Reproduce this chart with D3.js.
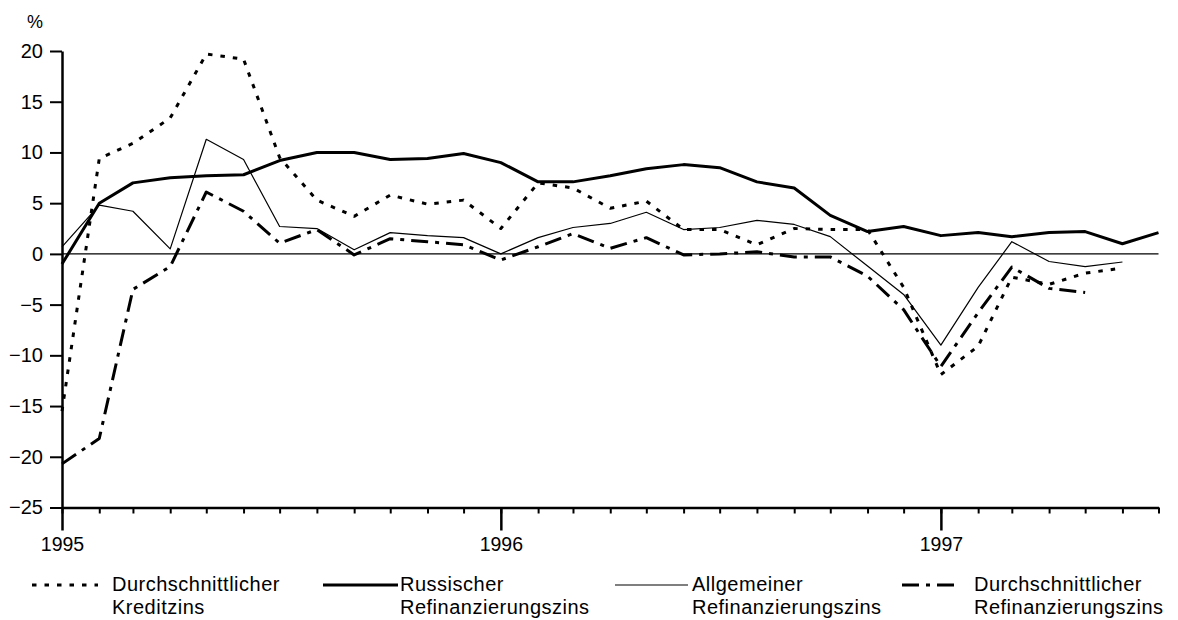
<!DOCTYPE html>
<html>
<head>
<meta charset="utf-8">
<script src="https://cdn.jsdelivr.net/npm/d3@7"></script>
<style>
  body { margin: 0; background: #fff; }
  svg { font-family: "Liberation Sans", Arial, sans-serif; }
</style>
</head>
<body>
<div id="chart"></div>
<script>
// Monatswerte, Jan 1995 .. Jul 1997
const start_month = new Date(1995, 0, 1);
const end_month = new Date(1997, 6, 1);
const year_ticks = [new Date(1995, 0, 1), new Date(1996, 0, 1), new Date(1997, 0, 1)];
const y_ticks = [20, 15, 10, 5, 0, -5, -10, -15, -20, -25];

const kreditzins = [-15.5, 9.4, 10.9, 13.4, 19.7, 19.2, 9.5, 5.3, 3.7, 5.8, 4.9, 5.3, 2.5, 7.0, 6.5,
  4.5, 5.2, 2.4, 2.4, 0.9, 2.5, 2.4, 2.4, -3.3, -11.9, -9.1, -2.3, -3.0, -1.9, -1.4];
const russ_refi = [-1.0, 5.0, 7.0, 7.5, 7.7, 7.8, 9.2, 10.0, 10.0, 9.3, 9.4, 9.9, 9.0, 7.1, 7.1,
  7.7, 8.4, 8.8, 8.5, 7.1, 6.5, 3.8, 2.2, 2.7, 1.8, 2.1, 1.7, 2.1, 2.2, 1.0, 2.1];
const allg_refi = [0.7, 4.8, 4.2, 0.5, 11.3, 9.3, 2.7, 2.5, 0.4, 2.1, 1.8, 1.6, 0.0, 1.6, 2.6,
  3.0, 4.1, 2.4, 2.6, 3.3, 2.9, 1.7, -1.2, -4.0, -9.0, -3.3, 1.2, -0.75, -1.25, -0.8];
const durchschn_refi = [-20.7, -18.2, -3.5, -1.25, 6.1, 4.2, 1.05, 2.4, -0.1, 1.5, 1.2, 0.9, -0.6, 0.7, 2.0,
  0.55, 1.6, -0.1, 0.0, 0.2, -0.3, -0.3, -2.2, -5.5, -11.1, -5.8, -1.3, -3.4, -3.8];

const legend_labels = [
  ["Durchschnittlicher", "Kreditzins"],
  ["Russischer", "Refinanzierungszins"],
  ["Allgemeiner", "Refinanzierungszins"],
  ["Durchschnittlicher", "Refinanzierungszins"],
];

const width = 1178, height = 620;

const series = [
  {values: kreditzins, stroke_width: 3, dash: "4.5,8", legend: {x0: 32, x1: 98, tx: 112}},
  {values: russ_refi, stroke_width: 3, dash: null, legend: {x0: 323, x1: 398, tx: 400}},
  {values: allg_refi, stroke_width: 1.2, dash: null, legend: {x0: 615, x1: 688, tx: 692}},
  {values: durchschn_refi, stroke_width: 3, dash: "17,7,4,7", legend: {x0: 902, x1: 954, tx: 974}},
];

const svg = d3.select("#chart").append("svg")
  .attr("width", width)
  .attr("height", height);

const x = d3.scaleTime()
  .domain([start_month, end_month])
  .range([62, 1158.5]);

const y = d3.scaleLinear()
  .domain([-25, 20])
  .range([507.5, 51]);

// Nulllinie
svg.append("line")
  .attr("x1", x(start_month))
  .attr("x2", x(end_month))
  .attr("y1", y(0))
  .attr("y2", y(0))
  .attr("stroke", "#000")
  .attr("stroke-width", 1.4);

const line = d3.line()
  .x((d, i) => x(d3.timeMonth.offset(start_month, i)))
  .y(d => y(d));

series.forEach(s => {
  svg.append("path")
    .attr("d", line(s.values))
    .attr("fill", "none")
    .attr("stroke", "#000")
    .attr("stroke-width", s.stroke_width)
    .attr("stroke-dasharray", s.dash)
    .attr("stroke-linejoin", "round");
});

// y-Achse
const y_axis = svg.append("g")
  .attr("transform", `translate(${x(start_month)},0)`)
  .call(d3.axisLeft(y).tickValues(y_ticks).tickSize(12).tickSizeOuter(0).tickPadding(7));

y_axis.select(".domain").attr("stroke-width", 2.5);
y_axis.selectAll(".tick line").attr("stroke-width", 2);
y_axis.selectAll(".tick text")
  .attr("font-size", 20)
  .attr("font-family", "'Liberation Sans', Arial, sans-serif")
  .attr("fill", "#000");

svg.append("text")
  .attr("x", 43)
  .attr("y", 28)
  .attr("text-anchor", "end")
  .attr("font-size", 18)
  .text("%");

// x-Achse: Monatsstriche
const x_axis = svg.append("g")
  .attr("transform", `translate(0,${y(-25)})`)
  .call(d3.axisBottom(x).ticks(d3.timeMonth.every(1)).tickSize(6).tickSizeOuter(0).tickFormat(""));

x_axis.select(".domain").attr("stroke-width", 2.5);
x_axis.selectAll(".tick line").attr("stroke-width", 2);

// x-Achse: Jahre
const year_axis = svg.append("g")
  .attr("transform", `translate(0,${y(-25)})`)
  .call(d3.axisBottom(x).tickValues(year_ticks).tickSize(23).tickPadding(7)
    .tickFormat(d3.timeFormat("%Y")));

year_axis.select(".domain").remove();
year_axis.selectAll(".tick line").attr("stroke-width", 2.5);
year_axis.selectAll(".tick text")
  .attr("font-size", 19.5)
  .attr("font-family", "'Liberation Sans', Arial, sans-serif")
  .attr("fill", "#000");

// Legende
const legend = svg.append("g");

series.forEach((s, i) => {
  const g = legend.append("g");

  g.append("line")
    .attr("x1", s.legend.x0)
    .attr("x2", s.legend.x1)
    .attr("y1", 585)
    .attr("y2", 585)
    .attr("stroke", "#000")
    .attr("stroke-width", s.stroke_width)
    .attr("stroke-dasharray", s.dash);

  g.selectAll("text")
    .data(legend_labels[i]).enter()
    .append("text")
    .attr("x", s.legend.tx)
    .attr("y", (d, k) => 591 + k * 23)
    .attr("font-size", 20)
    .attr("letter-spacing", 0.5)
    .text(d => d);
});
</script>
</body>
</html>
